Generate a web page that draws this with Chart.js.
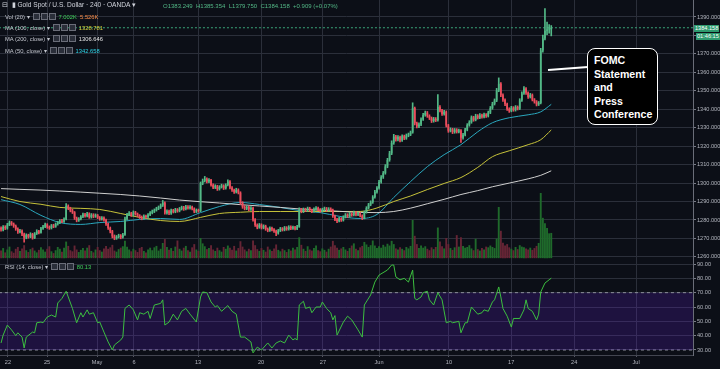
<!DOCTYPE html>
<html>
<head>
<meta charset="utf-8">
<script src="https://cdn.jsdelivr.net/npm/chart.js@4/dist/chart.umd.min.js"></script>
<style>
html, body { margin: 0; padding: 0; background: #0c0f17; }
#wrap { position: relative; width: 720px; height: 369px; overflow: hidden; font-family: "Liberation Sans", Arial, sans-serif; }
#c { position: absolute; left: 0; top: 0; }
.lg { position: absolute; left: 5px; font-size: 5.8px; line-height: 8px; color: #c3c6ce; white-space: nowrap; }
.ic { display: inline-block; width: 5px; height: 5px; border: 1px solid #6a6d78; background: #2a2e39; margin-right: 1px; vertical-align: -1px; }
.note { position: absolute; left: 587px; top: 48px; width: 71px; height: 77px; border: 1.5px solid #fff; border-radius: 8px; background: #000; color: #fff; font-weight: bold; font-size: 10.6px; line-height: 13.6px; padding: 5px 0 0 6px; box-sizing: border-box; font-family: "Liberation Sans", Arial, sans-serif; }
.tag { position: absolute; font-size: 5.6px; line-height: 7px; color: #fff; background: #2e9a6e; padding: 0 1px; }
</style>
</head>
<body>
<div id="wrap">
<canvas id="c" width="720" height="369"></canvas>

<div class="lg" style="top:1px;left:2px;font-size:6.6px;color:#d1d4dc">⊟ &nbsp;▮ Gold Spot / U.S. Dollar · 240 · OANDA ▾</div>
<div class="lg" style="top:1.5px;left:163px;font-size:6px;color:#53b987">O1383.249 &nbsp;H1385.354 &nbsp;L1379.750 &nbsp;C1384.158 &nbsp;+0.909 (+0.07%)</div>
<div class="lg" style="top:13px">Vol (20) ▾ &nbsp;<span class="ic"></span><span class="ic"></span><span class="ic"></span> <span style="color:#3fd05a">7.002K</span> &nbsp;<span style="color:#ff8f4a">5.526K</span></div>
<div class="lg" style="top:24px">MA (100, close) ▾ &nbsp;<span class="ic"></span><span class="ic"></span><span class="ic"></span> <span style="color:#d8d43c">1328.781</span></div>
<div class="lg" style="top:35px">MA (200, close) ▾ &nbsp;<span class="ic"></span><span class="ic"></span><span class="ic"></span> <span style="color:#e6e6e6">1306.646</span></div>
<div class="lg" style="top:47px">MA (50, close) ▾ &nbsp;<span class="ic"></span><span class="ic"></span><span class="ic"></span> <span style="color:#2ed3e6">1342.658</span></div>
<div class="lg" style="top:263px">RSI (14, close) ▾ &nbsp;<span class="ic"></span><span class="ic"></span><span class="ic"></span> <span style="color:#3fd05a">80.13</span></div>

<div class="tag" style="left:694px;top:24.5px">1384.158</div>
<div class="tag" style="left:696px;top:32.5px">01:46:15</div>

<svg style="position:absolute;left:0;top:0" width="720" height="369">
  <line x1="548" y1="70" x2="588" y2="67" stroke="#fff" stroke-width="2"/>
</svg>
<div class="note">FOMC<br>Statement<br>and<br>Press<br>Conference</div>
</div>

<script>
// 4h candles, Apr 19 - Jun 20
const opens = [
1275.6,1274.8,1276.2,1275.5,1277.4,1278.6,1277.9,1276.8,1275.1,1273.6,
1274.2,1272.3,1270.5,1271.8,1270.9,1272.4,1270.2,1272.6,1273.9,1273.1,
1275.4,1276.3,1277.5,1276.1,1275.6,1277.0,1276.4,1277.8,1278.5,1279.6,
1279.1,1280.4,1287.6,1286.3,1285.1,1284.2,1281.0,1279.8,1280.6,1281.7,
1283.0,1282.1,1283.4,1281.6,1282.8,1281.9,1282.5,1281.3,1280.4,1281.2,
1280.0,1277.8,1275.6,1273.9,1271.2,1270.1,1270.8,1271.5,1270.6,1272.0,
1280.7,1282.9,1283.7,1282.6,1284.1,1283.2,1282.4,1281.5,1280.9,1282.1,
1281.6,1282.8,1283.9,1284.6,1285.3,1286.2,1286.8,1287.9,1289.4,1283.9,
1284.7,1283.6,1285.2,1284.4,1285.6,1284.9,1286.0,1286.8,1285.9,1287.2,
1286.4,1287.0,1286.1,1284.6,1285.3,1284.9,1299.8,1301.2,1302.4,1300.9,
1301.6,1299.0,1297.6,1298.3,1296.8,1297.9,1298.6,1297.2,1298.9,1300.8,
1297.5,1296.2,1295.1,1296.4,1294.8,1289.3,1287.1,1286.2,1287.0,1285.8,
1286.5,1280.2,1277.3,1276.0,1277.4,1275.8,1276.7,1275.1,1274.3,1275.6,
1274.8,1273.9,1272.8,1274.2,1275.3,1274.6,1275.8,1275.0,1276.2,1275.4,
1276.0,1275.2,1276.4,1285.7,1284.6,1285.8,1285.1,1286.3,1285.4,1284.7,
1285.9,1286.5,1285.6,1284.9,1285.7,1286.2,1285.3,1286.0,1285.4,1282.1,
1280.3,1279.4,1280.8,1279.9,1281.6,1282.8,1281.9,1283.4,1282.7,1284.0,
1282.9,1283.6,1282.3,1281.0,1284.2,1286.5,1288.3,1289.6,1292.4,1295.1,
1297.3,1300.6,1303.2,1305.4,1309.0,1312.5,1316.1,1321.8,1325.2,1323.6,
1324.9,1323.1,1325.4,1324.2,1325.8,1326.3,1327.4,1340.6,1332.4,1330.8,
1331.7,1334.5,1336.9,1338.1,1336.4,1335.2,1333.6,1334.8,1334.0,1341.2,
1339.3,1337.4,1338.6,1331.2,1328.4,1329.1,1327.6,1328.9,1327.8,1328.5,
1324.6,1326.2,1328.9,1331.4,1333.0,1335.6,1334.2,1336.5,1335.4,1336.8,
1335.9,1337.1,1336.3,1338.2,1340.6,1342.9,1344.7,1350.2,1353.8,1347.6,
1345.1,1342.8,1340.2,1339.1,1340.8,1339.6,1341.2,1340.3,1344.8,1348.6,
1351.2,1348.9,1346.7,1347.8,1345.2,1344.1,1342.6,1343.4,1371.8,1378.4,
1382.6,1383.2,1383.249
];
const highs = [
1276.3,1277.0,1276.9,1278.2,1279.5,1279.2,1278.4,1277.3,1275.8,1275.0,
1274.6,1272.9,1272.5,1272.3,1273.1,1272.8,1273.2,1274.7,1274.4,1276.0,
1277.1,1278.3,1278.0,1276.8,1277.6,1277.7,1278.4,1279.3,1280.2,1280.3,
1281.2,1288.9,1288.2,1286.9,1285.8,1284.6,1281.6,1281.3,1282.4,1283.8,
1283.6,1284.2,1283.9,1283.5,1283.4,1283.3,1283.0,1281.9,1281.9,1281.7,
1280.5,1278.3,1276.2,1274.4,1271.9,1271.6,1272.3,1272.1,1272.8,1281.6,
1283.6,1284.5,1284.2,1284.9,1284.7,1283.8,1282.9,1282.2,1282.8,1282.7,
1283.5,1284.6,1285.4,1286.0,1286.9,1287.6,1288.7,1290.6,1289.9,1285.5,
1285.3,1285.9,1285.8,1286.3,1286.2,1286.8,1287.5,1287.4,1287.9,1287.8,
1287.8,1287.6,1286.6,1286.0,1285.9,1300.6,1302.2,1303.6,1302.9,1302.5,
1302.0,1299.6,1299.1,1298.8,1298.6,1299.4,1299.1,1299.6,1301.7,1301.3,
1298.1,1296.8,1297.2,1296.9,1295.3,1289.9,1287.8,1287.7,1287.5,1287.2,
1287.0,1280.8,1277.9,1278.1,1277.9,1277.4,1277.2,1275.7,1276.3,1276.2,
1275.4,1274.5,1274.9,1276.0,1275.9,1276.5,1276.4,1276.9,1276.8,1276.7,
1276.5,1277.1,1286.6,1286.3,1286.5,1286.4,1287.0,1286.9,1285.9,1286.6,
1287.3,1287.0,1286.2,1286.4,1287.0,1286.8,1286.7,1286.6,1285.9,1282.7,
1280.9,1281.5,1281.3,1282.3,1283.5,1283.4,1284.1,1283.9,1284.8,1284.5,
1284.3,1284.0,1282.8,1284.9,1287.2,1289.0,1290.4,1293.2,1296.0,1298.1,
1301.5,1304.1,1306.3,1310.0,1313.4,1317.2,1322.9,1326.4,1325.9,1325.8,
1325.5,1326.2,1326.0,1326.6,1327.1,1328.2,1343.5,1341.2,1333.1,1332.6,
1335.3,1337.8,1339.0,1338.8,1337.0,1335.8,1335.6,1335.5,1348.0,1342.0,
1340.0,1339.4,1339.1,1331.8,1329.9,1329.7,1329.6,1329.5,1329.3,1329.0,
1327.0,1329.7,1332.2,1333.8,1336.4,1336.2,1337.3,1337.1,1337.6,1337.4,
1337.9,1337.7,1339.0,1341.5,1343.8,1345.6,1351.3,1357.0,1354.4,1348.3,
1345.7,1343.4,1340.8,1341.6,1341.4,1342.0,1341.8,1345.7,1349.5,1352.3,
1351.8,1349.5,1348.6,1348.3,1345.8,1344.7,1344.2,1373.0,1380.2,1394.5,
1387.3,1385.9,1385.354
];
const lows = [
1273.9,1274.1,1274.8,1275.0,1276.9,1277.1,1276.0,1274.4,1272.7,1273.0,
1271.5,1268.0,1269.8,1270.1,1270.4,1269.6,1269.9,1272.1,1272.5,1272.8,
1274.9,1275.8,1275.5,1274.9,1275.1,1275.8,1276.0,1277.2,1278.0,1278.5,
1278.7,1280.0,1285.6,1284.4,1283.5,1280.3,1279.0,1279.2,1280.1,1281.2,
1281.5,1281.7,1280.9,1281.0,1281.2,1281.4,1280.7,1279.8,1279.9,1279.3,
1277.0,1274.9,1273.0,1270.3,1269.3,1269.5,1270.2,1269.8,1270.1,1271.6,
1280.1,1282.3,1281.9,1282.0,1282.6,1281.7,1280.8,1280.1,1280.4,1280.9,
1281.1,1282.3,1283.3,1284.0,1284.8,1285.6,1286.2,1287.3,1283.1,1283.2,
1282.9,1283.0,1283.8,1283.9,1284.2,1284.4,1285.4,1285.2,1285.4,1285.8,
1285.9,1285.5,1283.9,1284.0,1284.2,1284.5,1299.1,1300.6,1300.1,1300.2,
1298.3,1296.9,1297.0,1296.0,1296.2,1297.3,1296.5,1296.7,1298.4,1296.8,
1295.5,1294.4,1294.6,1294.1,1288.5,1286.3,1285.5,1285.6,1285.1,1285.2,
1279.4,1276.5,1275.2,1275.5,1275.1,1275.2,1274.4,1273.6,1273.8,1274.1,
1273.2,1271.5,1272.3,1273.7,1274.0,1274.1,1274.4,1274.5,1274.8,1274.9,
1274.6,1274.8,1276.0,1283.9,1284.0,1284.5,1284.6,1284.8,1284.0,1284.2,
1285.3,1285.0,1284.2,1284.3,1285.1,1284.7,1284.8,1284.8,1281.4,1279.6,
1278.6,1278.9,1279.2,1279.4,1281.1,1281.2,1281.4,1282.0,1282.2,1282.2,
1282.4,1281.6,1280.2,1280.6,1283.7,1285.9,1287.7,1289.0,1291.8,1294.5,
1296.7,1300.0,1302.5,1304.8,1308.3,1311.8,1315.4,1321.0,1322.7,1322.9,
1322.3,1322.6,1323.5,1323.7,1325.1,1325.7,1327.0,1331.5,1329.9,1330.0,
1331.1,1333.9,1336.2,1335.6,1334.4,1332.8,1333.0,1333.3,1333.6,1338.5,
1336.6,1336.8,1330.4,1327.5,1327.7,1326.8,1327.0,1327.1,1327.2,1322.0,
1323.8,1325.6,1328.3,1330.8,1332.4,1333.5,1333.7,1334.7,1334.9,1335.2,
1335.3,1335.6,1335.8,1337.6,1340.0,1342.3,1344.1,1349.5,1346.8,1344.3,
1342.0,1339.4,1338.3,1338.6,1338.9,1339.0,1339.6,1339.8,1344.2,1348.0,
1348.1,1345.9,1346.1,1344.5,1343.3,1341.8,1342.0,1342.9,1370.9,1377.6,
1380.4,1381.2,1379.750
];
const closes = [
1274.8,1276.2,1275.5,1277.4,1278.6,1277.9,1276.8,1275.1,1273.6,1274.2,
1272.3,1270.5,1271.8,1270.9,1272.4,1270.2,1272.6,1273.9,1273.1,1275.4,
1276.3,1277.5,1276.1,1275.6,1277.0,1276.4,1277.8,1278.5,1279.6,1279.1,
1280.4,1287.6,1286.3,1285.1,1284.2,1281.0,1279.8,1280.6,1281.7,1283.0,
1282.1,1283.4,1281.6,1282.8,1281.9,1282.5,1281.3,1280.4,1281.2,1280.0,
1277.8,1275.6,1273.9,1271.2,1270.1,1270.8,1271.5,1270.6,1272.0,1280.7,
1282.9,1283.7,1282.6,1284.1,1283.2,1282.4,1281.5,1280.9,1282.1,1281.6,
1282.8,1283.9,1284.6,1285.3,1286.2,1286.8,1287.9,1289.4,1283.9,1284.7,
1283.6,1285.2,1284.4,1285.6,1284.9,1286.0,1286.8,1285.9,1287.2,1286.4,
1287.0,1286.1,1284.6,1285.3,1284.9,1299.8,1301.2,1302.4,1300.9,1301.6,
1299.0,1297.6,1298.3,1296.8,1297.9,1298.6,1297.2,1298.9,1300.8,1297.5,
1296.2,1295.1,1296.4,1294.8,1289.3,1287.1,1286.2,1287.0,1285.8,1286.5,
1280.2,1277.3,1276.0,1277.4,1275.8,1276.7,1275.1,1274.3,1275.6,1274.8,
1273.9,1272.8,1274.2,1275.3,1274.6,1275.8,1275.0,1276.2,1275.4,1276.0,
1275.2,1276.4,1285.7,1284.6,1285.8,1285.1,1286.3,1285.4,1284.7,1285.9,
1286.5,1285.6,1284.9,1285.7,1286.2,1285.3,1286.0,1285.4,1282.1,1280.3,
1279.4,1280.8,1279.9,1281.6,1282.8,1281.9,1283.4,1282.7,1284.0,1282.9,
1283.6,1282.3,1281.0,1284.2,1286.5,1288.3,1289.6,1292.4,1295.1,1297.3,
1300.6,1303.2,1305.4,1309.0,1312.5,1316.1,1321.8,1325.2,1323.6,1324.9,
1323.1,1325.4,1324.2,1325.8,1326.3,1327.4,1340.6,1332.4,1330.8,1331.7,
1334.5,1336.9,1338.1,1336.4,1335.2,1333.6,1334.8,1334.0,1341.2,1339.3,
1337.4,1338.6,1331.2,1328.4,1329.1,1327.6,1328.9,1327.8,1328.5,1324.6,
1326.2,1328.9,1331.4,1333.0,1335.6,1334.2,1336.5,1335.4,1336.8,1335.9,
1337.1,1336.3,1338.2,1340.6,1342.9,1344.7,1350.2,1353.8,1347.6,1345.1,
1342.8,1340.2,1339.1,1340.8,1339.6,1341.2,1340.3,1344.8,1348.6,1351.2,
1348.9,1346.7,1347.8,1345.2,1344.1,1342.6,1343.4,1371.8,1378.4,1382.6,
1383.2,1383.3,1384.158
];
// volume in thousands
const volumes = [
2.1,2.8,1.6,2.4,3.2,1.9,1.5,2.6,3.1,2.0,
2.7,3.6,2.2,1.7,2.5,2.9,2.1,1.6,2.3,3.0,
2.4,1.8,2.6,3.3,1.9,1.4,2.2,3.1,2.6,1.8,
2.9,4.6,3.4,2.2,1.9,3.5,2.4,1.7,2.3,2.8,
2.1,2.9,3.6,2.0,1.6,2.4,3.1,2.2,1.8,2.7,
3.4,2.6,3.0,3.7,2.1,1.8,2.5,2.9,3.3,4.8,
3.2,2.4,1.9,2.6,2.2,1.7,2.8,3.1,2.0,1.6,
2.4,2.9,2.2,3.0,3.4,2.1,2.6,4.2,5.3,3.1,
2.3,2.8,2.0,3.2,4.9,2.6,2.1,2.9,3.4,2.2,
1.8,3.0,3.9,2.4,2.0,5.6,4.1,3.3,2.5,2.8,
3.6,2.4,2.0,2.9,2.2,1.8,3.1,2.6,3.5,2.9,
2.3,3.4,2.1,2.8,4.7,3.2,2.4,1.9,2.6,2.2,
4.9,3.6,2.5,2.0,2.8,2.3,1.8,3.2,2.4,2.0,
2.7,3.8,2.3,1.9,2.6,2.2,1.7,2.5,2.1,2.9,
2.4,3.1,5.8,3.7,2.6,2.0,3.3,2.4,2.1,2.8,
3.5,2.2,1.9,2.7,2.3,1.8,2.6,3.2,4.8,3.6,
2.9,2.3,2.7,3.1,2.4,2.0,2.8,3.5,4.1,2.6,
2.2,3.0,3.4,4.5,3.8,3.1,3.6,4.9,3.5,2.8,
3.3,2.9,3.7,3.2,4.0,3.5,4.8,3.9,2.7,2.4,
3.0,2.6,2.2,3.1,2.7,3.4,10.6,6.2,3.9,2.8,
3.5,2.9,3.3,2.6,2.2,3.0,2.5,3.1,8.5,4.6,
3.3,2.7,5.6,3.9,2.8,2.3,3.0,6.4,3.2,5.8,
3.4,2.9,3.1,3.6,2.7,2.2,5.4,2.5,2.1,2.8,
2.4,3.2,3.0,3.5,3.1,2.8,5.4,14.2,7.6,4.3,
3.5,3.9,3.0,2.6,2.2,3.1,2.5,3.6,3.2,3.0,
2.7,2.4,2.9,2.3,2.8,3.4,4.2,18.1,11.2,9.7,
8.4,6.9,7.0
];

// moving averages read at sample bars
const maIdx = [0,9,19,28,38,47,57,66,76,85,95,104,114,123,133,142,152,161,171,179,187,195,203,211,219,227,234,242,251,257,262];
const ma50 = [1291.0,1288.4,1282.5,1278.6,1277.6,1278.6,1279.2,1280.3,1280.8,1280.3,1284.0,1287.3,1289.5,1288.4,1286.8,1285.1,1284.0,1282.0,1280.8,1283.0,1292.2,1300.8,1308.9,1315.4,1320.8,1327.8,1332.7,1335.4,1337.0,1338.6,1342.658];
const ma100 = [1292.7,1290.0,1288.5,1286.8,1286.3,1285.7,1283.5,1281.4,1279.7,1279.2,1281.4,1283.5,1284.2,1284.6,1284.6,1284.6,1284.6,1284.6,1284.6,1286.5,1290.0,1293.0,1296.5,1299.8,1303.0,1308.5,1314.3,1317.5,1320.8,1323.5,1328.781];
const ma200 = [1297.0,1296.6,1296.2,1295.7,1295.1,1294.5,1293.8,1293.0,1291.9,1290.8,1289.9,1289.2,1288.3,1287.6,1286.8,1286.0,1285.3,1284.7,1284.1,1284.0,1284.6,1286.4,1288.8,1291.2,1293.8,1295.9,1298.0,1300.0,1302.3,1304.2,1306.646];

// RSI(14)
const rsiIdx = [0,1,3,5,7,8,10,11,12,15,16,17,19,20,22,24,26,27,29,31,32,34,36,38,39,41,42,44,46,47,
49,51,53,54,57,58,59,61,63,65,66,68,70,71,73,76,77,78,80,82,84,86,88,90,93,95,96,98,100,102,
103,105,108,110,112,114,116,119,120,122,124,127,129,131,133,135,137,139,140,141,142,144,145,147,148,150,152,153,155,157,
158,159,160,163,165,167,170,172,173,176,178,180,184,186,187,188,190,192,194,196,197,198,200,201,203,204,206,208,210,212,
214,215,218,219,221,222,224,227,229,230,232,234,235,237,238,239,241,243,244,247,249,250,251,253,255,256,257,259,261,262];
const rsiVal = [34.9,40.4,47.4,44,40,42,39,31.4,39,42.5,42,49,49.5,49,53,54.4,53,62.8,66,71,67,59,49,56,53,58,55,56,49,49.5,
42.5,35.6,30,33.5,37,39,59,61.4,58,51,56,55,57,52,61.4,62.5,65,47.4,49.5,55,51,57,59,55,49.5,67,70.5,70,63.5,60,
61,57,61,57,55,39,39,35.6,28,32,30,34.9,31.4,34.9,36.3,34.9,40.4,37,38,37,61.4,64,59,60,56,60,60,63.5,59,56,
51,54,40.4,49.5,53.6,51,44,39,61.4,68.4,77.4,82.3,85.8,89.3,89.3,81,79,80,77.4,85.8,66,65,67,70,71,65,61.4,70,65,49,
50,49,50,42,49,49,60,55,56,58,57,63.5,65,74,67,59,53.6,46,52,52,58,65,59,57,51,55,70.5,76.7,79,80.13];

const tickPos = [3.3, 21.9, 45.7, 63.3, 93.8, 123.8, 153.3, 180, 213.3, 242.9, 272.9, 302.4];
const tickLabels = ['22', '25', 'May', '6', '13', '20', '27', 'Jun', '10', '17', '24', 'Jul'];
const priceTicks = [1260, 1270, 1280, 1290, 1300, 1310, 1320, 1330, 1340, 1350, 1360, 1370, 1380, 1390];
const rsiTicks = [30, 40, 50, 60, 70, 80, 90];
const lastPrice = 1384.158;

const up = '#53b987', down = '#eb4d5c';
const isUp = i => closes[i] >= opens[i];
const gridCol = '#2b2f3a';
const txtCol = '#b2b5be';

const bg = {
    id: 'bg',
    beforeDraw(chart) {
        const c = chart.ctx;
        c.save();
        c.fillStyle = '#0c0f17';
        c.fillRect(0, 0, chart.width, chart.height);
        c.restore();
    }
};

// no label padding, panes touch the canvas edges
const noPad = s => { s.paddingTop = 0; s.paddingBottom = 0; s.paddingLeft = 0; s.paddingRight = 0; };

const flat = v => [{x: -1, y: v}, {x: 340, y: v}];
const maLine = (vals, color) => ({
    type: 'line', yAxisID: 'y', order: 3,
    data: maIdx.map((x, k) => ({x, y: vals[k]})),
    borderColor: color, borderWidth: 1, pointRadius: 0,
    cubicInterpolationMode: 'monotone'
});

new Chart('c', {
    type: 'bar',
    data: {
        datasets: [
            {
                type: 'line', yAxisID: 'yR', order: 9,
                data: flat(70), borderColor: '#8f929c', borderDash: [3, 3], borderWidth: 1,
                pointRadius: 0, fill: '+1', backgroundColor: 'rgba(105,30,225,0.2)'
            },
            {
                type: 'line', yAxisID: 'yR', order: 9,
                data: flat(30), borderColor: '#8f929c', borderDash: [3, 3], borderWidth: 1,
                pointRadius: 0
            },
            {
                type: 'line', yAxisID: 'yR', order: 2,
                data: rsiIdx.map((x, k) => ({x, y: rsiVal[k]})),
                borderColor: '#3cbf3f', borderWidth: 1, pointRadius: 0
            },
            {
                type: 'line', yAxisID: 'y', order: 4,
                data: flat(lastPrice), borderColor: '#3aa57a', borderDash: [2, 2], borderWidth: 1,
                pointRadius: 0
            },
            maLine(ma200, '#cfcfcf'),
            maLine(ma100, '#c6c23a'),
            maLine(ma50, '#2aa7bd'),
            {
                yAxisID: 'yV', order: 8, grouped: false,
                data: volumes.map((v, i) => ({x: i, y: v})),
                backgroundColor: ctx => isUp(ctx.dataIndex) ? '#1f6a2b' : '#662535',
                barPercentage: 0.9, categoryPercentage: 1
            },
            {
                yAxisID: 'y', order: 1, grouped: false,
                data: closes.map((c, i) => ({x: i, y: [lows[i], highs[i]]})),
                backgroundColor: ctx => isUp(ctx.dataIndex) ? up : down,
                barThickness: 1
            },
            {
                yAxisID: 'y', order: 0, grouped: false,
                data: closes.map((c, i) => ({x: i, y: [opens[i], c]})),
                backgroundColor: ctx => isUp(ctx.dataIndex) ? up : down,
                barPercentage: 0.8, categoryPercentage: 1, minBarLength: 1
            }
        ]
    },
    options: {
        responsive: false,
        animation: false,
        layout: {padding: 0},
        plugins: {legend: {display: false}, tooltip: {enabled: false}},
        scales: {
            x: {
                type: 'linear', min: -0.5, max: 329.5, offset: false,
                afterBuildTicks: s => { s.ticks = tickPos.map(v => ({value: v})); },
                afterFit: s => { s.height = 14; noPad(s); },
                ticks: {
                    autoSkip: false, maxRotation: 0, padding: 2,
                    color: txtCol, font: {size: 5.6, family: 'Liberation Sans'},
                    callback: (v, i) => tickLabels[i]
                },
                grid: {color: gridCol, tickLength: 2, tickColor: '#555864', offset: false},
                border: {color: '#434651'}
            },
            y: {
                position: 'right', stack: 'pane', stackWeight: 258,
                min: 1259.4, max: 1399.2,
                afterBuildTicks: s => { s.ticks = priceTicks.map(v => ({value: v})); },
                afterFit: s => { s.width = 27; noPad(s); },
                ticks: {
                    autoSkip: false, padding: 1, color: txtCol, font: {size: 5.6, family: 'Liberation Sans'},
                    callback: v => v.toFixed(3)
                },
                grid: {color: gridCol, tickLength: 3, tickColor: '#787b86'},
                border: {color: '#6a6d78'}
            },
            yR: {
                position: 'right', stack: 'pane', stackWeight: 97,
                min: 26.5, max: 94.2,
                afterBuildTicks: s => { s.ticks = rsiTicks.map(v => ({value: v})); },
                afterFit: s => { s.width = 27; noPad(s); },
                ticks: {
                    autoSkip: false, padding: 1, color: txtCol, font: {size: 5.6, family: 'Liberation Sans'},
                    callback: v => v.toFixed(2)
                },
                grid: {color: gridCol, tickLength: 3, tickColor: '#787b86'},
                border: {color: '#6a6d78'}
            },
            yV: {
                position: 'left', display: false,
                min: -26.9, max: 71.7
            }
        }
    },
    plugins: [bg]
});
</script>
</body>
</html>
